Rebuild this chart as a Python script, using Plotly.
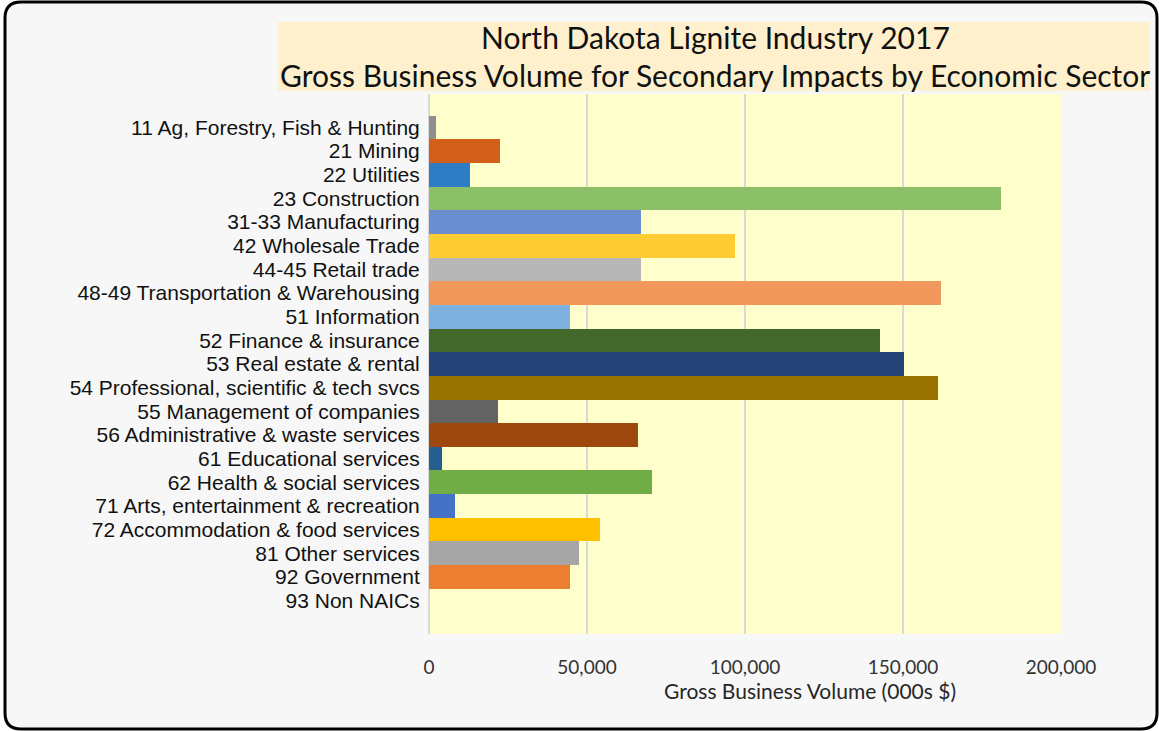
import plotly.graph_objects as go

# data (000s $)
sectors = [
    "11 Ag, Forestry, Fish & Hunting", "21 Mining", "22 Utilities", "23 Construction",
    "31-33 Manufacturing", "42 Wholesale Trade", "44-45 Retail trade",
    "48-49 Transportation & Warehousing", "51 Information", "52 Finance & insurance",
    "53 Real estate & rental", "54 Professional, scientific & tech svcs",
    "55 Management of companies", "56 Administrative & waste services",
    "61 Educational services", "62 Health & social services",
    "71 Arts, entertainment & recreation", "72 Accommodation & food services",
    "81 Other services", "92 Government", "93 Non NAICs",
]
volume = [2100, 22600, 12900, 180900, 67000, 96900, 67000, 162000, 44700, 142800,
          150200, 161000, 21900, 66000, 4100, 70600, 8100, 54200, 47600, 44700, 0]
bar_colors = ["#8f8f8f", "#d2601a", "#2e7dc4", "#8cc068", "#6a8fd0", "#ffcc33", "#b7b7b7",
              "#f1995c", "#7fb1e0", "#43682c", "#264478", "#997300", "#636363", "#9e480e",
              "#255e91", "#70ad47", "#4472c4", "#ffc000", "#a5a5a5", "#ed7d31", "#cccccc"]
x_ticks = [0, 50000, 100000, 150000, 200000]
x_ticktext = ["0", "50,000", "100,000", "150,000", "200,000"]

W, H = 1159, 731
L, R, T, B = 429, 1061, 94, 634  # plot area in pixels


def px(x):
    return (x - L) / (R - L)


def py(y):
    return (B - y) / (B - T)


def rrect(x0, y0, x1, y1, r):
    p = lambda x, y: f"{px(x):.5f},{py(y):.5f}"
    return (f"M {p(x0 + r, y0)} L {p(x1 - r, y0)} Q {p(x1, y0)} {p(x1, y0 + r)} "
            f"L {p(x1, y1 - r)} Q {p(x1, y1)} {p(x1 - r, y1)} L {p(x0 + r, y1)} "
            f"Q {p(x0, y1)} {p(x0, y1 - r)} L {p(x0, y0 + r)} Q {p(x0, y0)} {p(x0 + r, y0)} Z")


fig = go.Figure()
fig.add_trace(go.Bar(y=sectors, x=volume, orientation="h", marker_color=bar_colors,
                     marker_line_width=0, width=1, showlegend=False))

shapes = [
    # rounded chart frame
    dict(type="path", xref="paper", yref="paper", path=rrect(5, 2, 1157, 729, 16),
         fillcolor="#f7f7f7", line=dict(color="black", width=3), layer="below"),
    # plot area fill
    dict(type="rect", xref="paper", yref="paper", x0=0, x1=1, y0=0, y1=1,
         fillcolor="#ffffcc", line_width=0, layer="below"),
    # title box
    dict(type="rect", xref="paper", yref="paper", x0=px(278), x1=px(1150), y0=py(91), y1=py(22),
         fillcolor="#fef0cd", line_width=0, layer="below"),
]

title_font = dict(family="Lato", size=30, color="#111111")
annotations = [
    dict(text="North Dakota Lignite Industry 2017", x=px(715), y=py(37), xref="paper", yref="paper",
         showarrow=False, font=title_font, xanchor="center", yanchor="middle"),
    dict(text="Gross Business Volume for Secondary Impacts by Economic Sector", x=px(715), y=py(75),
         xref="paper", yref="paper", showarrow=False, font=title_font, xanchor="center", yanchor="middle"),
    dict(text="Gross Business Volume (000s $)", x=px(810), y=py(690), xref="paper", yref="paper",
         showarrow=False, font=dict(family="Lato", size=21, color="#262626"),
         xanchor="center", yanchor="middle"),
]

fig.update_layout(
    width=W, height=H, margin=dict(l=L, r=W - R, t=T, b=H - B, pad=0),
    paper_bgcolor="white", plot_bgcolor="rgba(0,0,0,0)",
    bargap=0, shapes=shapes, annotations=annotations,
)
fig.update_xaxes(range=[0, 200000], tickvals=x_ticks, ticktext=x_ticktext,
                 showgrid=True, gridcolor="#d9d9d9", gridwidth=2,
                 zeroline=True, zerolinecolor="#d9d9d9", zerolinewidth=2,
                 ticks="outside", ticklen=16, tickcolor="rgba(0,0,0,0)",
                 tickfont=dict(family="Lato", size=19, color="#333333"), fixedrange=True)
fig.update_yaxes(type="category", range=[21.41, -1.41], showgrid=False, zeroline=False,
                 tickmode="array", tickvals=sectors, ticktext=sectors,
                 ticks="outside", ticklen=4, tickcolor="rgba(0,0,0,0)",
                 tickfont=dict(family="Liberation Sans", size=21, color="#111111"), fixedrange=True)

fig.write_html("out.html", config={"displayModeBar": False},
               post_script="document.body.style.margin='0';")
